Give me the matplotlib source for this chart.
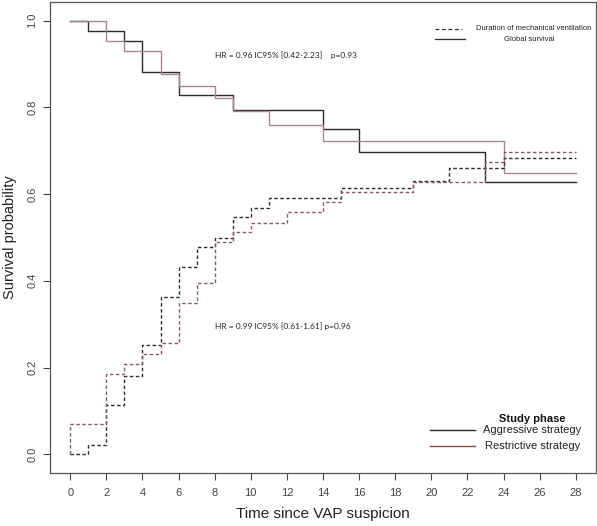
import numpy as np
import matplotlib
matplotlib.use('Agg')
import matplotlib.pyplot as plt

plt.rcParams['font.family'] = ['Liberation Sans', 'DejaVu Sans']

# global survival (solid)
os_aggr_t = [0, 1, 3, 4, 6, 9, 14, 16, 23, 28]
os_aggr_s = [1.0, 0.977, 0.953, 0.882, 0.829, 0.795, 0.751, 0.697, 0.627, 0.627]
os_restr_t = [0, 2, 3, 5, 6, 8, 9, 11, 14, 24, 28]
os_restr_s = [1.0, 0.953, 0.930, 0.878, 0.849, 0.822, 0.791, 0.760, 0.722, 0.649, 0.649]

# duration of mechanical ventilation (dashed, cumulative)
mv_aggr_t = [0, 1, 2, 3, 4, 5, 6, 7, 8, 9, 10, 11, 15, 19, 21, 24, 28]
mv_aggr_s = [0.0, 0.022, 0.113, 0.181, 0.251, 0.362, 0.433, 0.478, 0.499,
             0.547, 0.569, 0.591, 0.614, 0.630, 0.661, 0.683, 0.683]
mv_restr_t = [0, 0, 2, 3, 4, 5, 6, 7, 8, 9, 10, 12, 14, 15, 19, 23, 24, 28]
mv_restr_s = [0.0, 0.070, 0.186, 0.209, 0.232, 0.256, 0.349, 0.395, 0.489,
              0.512, 0.534, 0.558, 0.583, 0.606, 0.628, 0.674, 0.697, 0.697]

x_ticks = list(range(0, 29, 2))
y_ticks = [0.0, 0.2, 0.4, 0.6, 0.8, 1.0]

black = '#2b2b2b'
rose = '#a8868c'
rose_dark = '#8a5a60'
dash = (0, (2.5, 1.8))

fig = plt.figure(figsize=(5.97, 5.26), dpi=100)
ax = fig.add_axes([50/597, 1 - 473/526, 546/597, 471/526])

ax.step(os_aggr_t, os_aggr_s, where='post', color=black, lw=1.0)
ax.step(os_restr_t, os_restr_s, where='post', color=rose, lw=1.0)
ax.step(mv_aggr_t, mv_aggr_s, where='post', color=black, lw=1.0, linestyle=dash)
ax.step(mv_restr_t, mv_restr_s, where='post', color=rose_dark, lw=1.0, linestyle=dash)

ax.set_xlim(-1.12, 29.12)
ax.set_ylim(-0.0432, 1.0432)
ax.set_xticks(x_ticks)
ax.set_yticks(y_ticks)
ax.set_yticklabels(['%.1f' % v for v in y_ticks], rotation=90, va='center')
ax.tick_params(labelsize=8, colors='#444444', length=5, width=0.8)
ax.tick_params(axis='x', pad=6)
ax.tick_params(axis='y', pad=4)
for s in ax.spines.values():
    s.set_color('#555555')
    s.set_linewidth(0.9)

ax.set_xlabel('Time since VAP suspicion', fontsize=11, color='#222222', labelpad=6)
ax.set_ylabel('Survival probability', fontsize=10.5, color='#222222')
ax.yaxis.set_label_coords(-0.061, 0.5)

ax.text(8.0, 0.92, 'HR = 0.96 IC95% [0.42-2.23]    p=0.93', fontsize=6,
        family=['Lato', 'DejaVu Sans'], va='center', color='#222222')
ax.text(8.0, 0.296, 'HR = 0.99 IC95% [0.61-1.61] p=0.96', fontsize=6,
        family=['Lato', 'DejaVu Sans'], va='center', color='#222222')

# top-right legend (line type)
ax.plot([20.2, 21.7], [0.982, 0.982], color=black, lw=0.9, linestyle=(0, (3, 2.2)))
ax.plot([20.2, 21.85], [0.957, 0.957], color=black, lw=0.9)
ax.text(22.5, 0.982, 'Duration of mechanical ventilation', fontsize=5.5,
        va='center', color='#222222')
ax.text(25.4, 0.957, 'Global survival', fontsize=5.5, va='center',
        ha='center', color='#222222')

# bottom-right legend (study phase)
ax.text(25.6, 0.082, 'Study phase', fontsize=8, fontweight='bold',
        ha='center', va='center', color='#111111')
ax.plot([19.95, 22.4], [0.055, 0.055], color=black, lw=1.0)
ax.plot([19.95, 22.4], [0.018, 0.018], color='#8b4a4a', lw=1.0)
ax.text(25.6, 0.057, 'Aggressive strategy', fontsize=8, ha='center',
        va='center', color='#222222')
ax.text(25.6, 0.020, 'Restrictive strategy', fontsize=8, ha='center',
        va='center', color='#222222')

fig.savefig('out.png', dpi=100)
